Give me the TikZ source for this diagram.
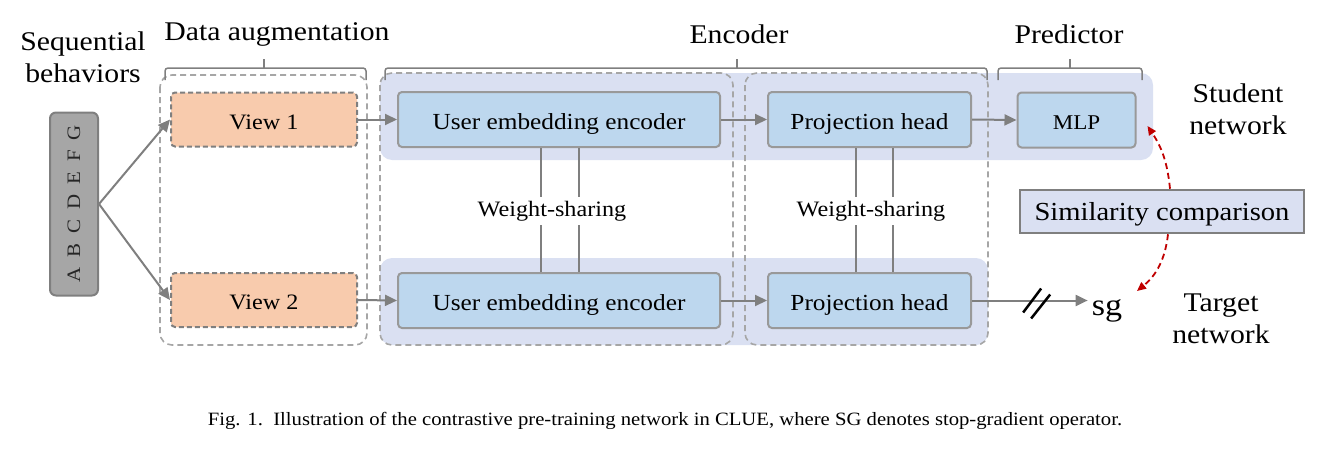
\documentclass[tikz,border=0pt]{standalone}
\usepackage{fontspec}
\setmainfont[FakeStretch=1.1]{Liberation Serif}
\usetikzlibrary{arrows.meta,calc}
\definecolor{bandc}{HTML}{DAE0F2}
\definecolor{boxc}{HTML}{BDD7EE}
\definecolor{orangec}{HTML}{F8CBAD}
\definecolor{grayl}{HTML}{A6A6A6}
\definecolor{graym}{HTML}{999999}
\definecolor{grayd}{HTML}{7F7F7F}
\definecolor{redc}{HTML}{C00000}
\newcommand\fsz[2]{\fontsize{#1}{#2}\selectfont}
\tikzset{
  band/.style={fill=bandc, rounded corners=12pt},
  cont/.style={draw=grayl, dash pattern=on 6pt off 4pt, line width=1.6pt, rounded corners=12pt},
  bluebox/.style={draw=graym, fill=boxc, rounded corners=4pt, line width=2pt, minimum height=55pt, font=\fsz{23}{27}, inner sep=0pt, text height=19.4pt, text depth=0pt},
  viewbox/.style={draw=grayd, fill=orangec, dash pattern=on 5pt off 3pt, line width=2pt, rounded corners=4pt, minimum width=186pt, minimum height=54pt, font=\fsz{22}{26}, inner sep=0pt, text height=19.2pt, text depth=0pt},
  arr/.style={draw=grayd, line width=2pt, -{Triangle[length=12pt,width=11pt]}},
  brk/.style={draw=grayd, line width=1.5pt, rounded corners=3pt},
  lbl/.style={font=\fsz{27}{32}, align=center, inner sep=0pt},
  wsl/.style={font=\fsz{22}{26}, inner sep=4pt},
  wline/.style={draw=grayd, line width=2pt},
  redarr/.style={draw=redc, line width=1.8pt, dash pattern=on 6pt off 4pt, -{Triangle[length=9pt,width=8pt]}},
}
\begin{document}
\begin{tikzpicture}[x=1pt,y=-1pt]
\useasboundingbox (0,0) rectangle (1340,455);
% background bands
\fill[band] (380,73) rectangle (1153,160);
\fill[band] (380,258) rectangle (988,345);
% dashed containers
\draw[cont] (160,75) rectangle (367,345);
\draw[cont] (380,73) rectangle (733,345);
\draw[cont] (745,73) rectangle (988,345);
% brackets
\draw[brk] (165,80) -- (165,68) -- (366,68) -- (366,80);
\draw[brk] (264,68) -- (264,59);
\draw[brk] (385,80) -- (385,68) -- (987,68) -- (987,80);
\draw[brk] (737,68) -- (737,59);
\draw[brk] (998,80) -- (998,68) -- (1142,68) -- (1142,80);
\draw[brk] (1070,68) -- (1070,59);
% labels
\node[lbl] (seqlbl) at (83,57) {Sequential\\behaviors};
\node[lbl] (dalbl) at (277,34) {Data augmentation};
\node[lbl] (enclbl) at (739,34) {Encoder};
\node[lbl] (predlbl) at (1069,34) {Predictor};
\node[lbl] (stlbl) at (1238,109) {Student\\network};
\node[lbl] (tglbl) at (1221,319) {Target\\network};
% sequence box
\node[draw=grayd, fill=grayl, line width=2pt, rounded corners=6pt, minimum width=48pt, minimum height=183pt, inner sep=0pt] (seq) at (74,204)
  {\rotatebox{90}{\fsz{19}{22}\color[HTML]{262626}A\hspace{10pt}B\hspace{10pt}C\hspace{10pt}D\hspace{10pt}E\hspace{10pt}F\hspace{10pt}G}};
% views
\node[viewbox] (view1) at (264,119.5) {View 1};
\node[viewbox] (view2) at (264,300) {View 2};
% encoders
\node[bluebox, minimum width=322pt] (ue1) at (559,119.5) {User embedding encoder};
\node[bluebox, minimum width=322pt] (ue2) at (559,300.5) {User embedding encoder};
\node[bluebox, minimum width=203pt] (ph1) at (869.5,119.5) {Projection head};
\node[bluebox, minimum width=203pt] (ph2) at (869.5,300.5) {Projection head};
\node[bluebox, minimum width=118pt, font=\fsz{21}{25}] (mlp) at (1076.5,120) {MLP};
\node[draw=grayd, fill=bandc, line width=2.5pt, minimum width=284pt, minimum height=43pt, font=\fsz{26}{30}, inner sep=0pt, text height=17pt, text depth=0pt] (sim) at (1162,211.5) {Similarity comparison};
\node[font=\fsz{31}{34}, inner sep=4pt, anchor=base] (sg) at (1107,315) {sg};
% weight sharing
\node[wsl] (ws1) at (552,211) {Weight-sharing};
\node[wsl] (ws2) at (871,211) {Weight-sharing};
\coordinate (u1a) at ([xshift=-18]ue1.south);
\coordinate (u1b) at ([xshift=20]ue1.south);
\coordinate (u2a) at ([xshift=-18]ue2.north);
\coordinate (u2b) at ([xshift=20]ue2.north);
\draw[wline] (u1a) -- (u1a |- ws1.north);
\draw[wline] (u1b) -- (u1b |- ws1.north);
\draw[wline] (u2a) -- (u2a |- ws1.south);
\draw[wline] (u2b) -- (u2b |- ws1.south);
\coordinate (p1a) at ([xshift=-14]ph1.south);
\coordinate (p1b) at ([xshift=23]ph1.south);
\coordinate (p2a) at ([xshift=-14]ph2.north);
\coordinate (p2b) at ([xshift=23]ph2.north);
\draw[wline] (p1a) -- (p1a |- ws2.north);
\draw[wline] (p1b) -- (p1b |- ws2.north);
\draw[wline] (p2a) -- (p2a |- ws2.south);
\draw[wline] (p2b) -- (p2b |- ws2.south);
% arrows
\draw[arr] (seq.east) -- (view1.west);
\draw[arr] (seq.east) -- (view2.west);
\draw[arr] (view1.east) -- (ue1.west);
\draw[arr] (view2.east) -- (ue2.west);
\draw[arr] (ue1.east) -- (ph1.west);
\draw[arr] (ue2.east) -- (ph2.west);
\draw[arr] (ph1.east) -- (mlp.west);
\coordinate (sgin) at (ph2.east -| sg.west);
\draw[arr] (ph2.east) -- (sgin);
\coordinate (cut) at ($(ph2.east)!0.52!(sgin)$);
\draw[line width=2.5pt] ([shift={(-9,12)}]cut) -- ([shift={(9,-12)}]cut);
\draw[line width=2.5pt] ([shift={(-1,18)}]cut) -- ([shift={(18,-6)}]cut);
% red dashed arrows
\coordinate (mlptip) at ([shift={(11,6)}]mlp.east);
\coordinate (sgtip) at (1137,291);
\draw[redarr] ([xshift=8]sim.north) to[bend right=14] (mlptip);
\draw[redarr] ([xshift=6]sim.south) to[bend left=22] (sgtip);
% caption
\node[font=\fsz{18.8}{22}, inner sep=0pt, anchor=base] (cap) at (665,425) {Fig. 1.\ \ Illustration of the contrastive pre-training network in CLUE, where SG denotes stop-gradient operator.};
\end{tikzpicture}
\end{document}
